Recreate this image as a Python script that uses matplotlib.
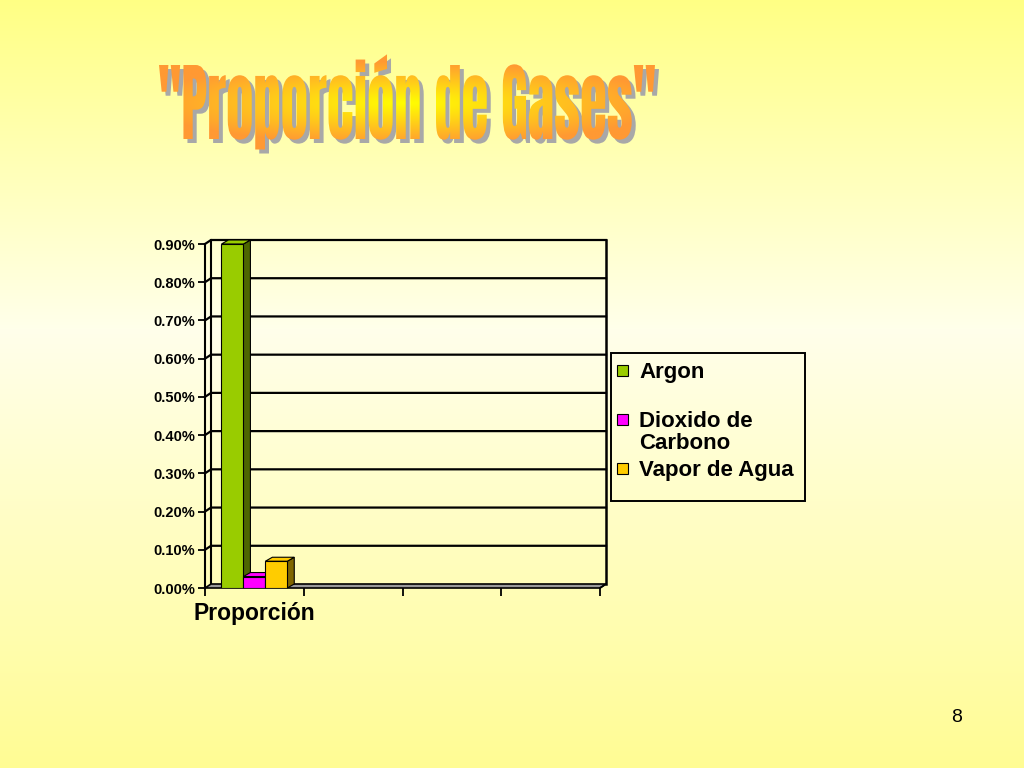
import numpy as np
import matplotlib
matplotlib.use("Agg")
import matplotlib.pyplot as plt
from matplotlib.patches import Polygon, Rectangle, PathPatch
from matplotlib.textpath import TextPath
from matplotlib.font_manager import FontProperties, fontManager
from matplotlib.transforms import Affine2D
from matplotlib.ticker import FuncFormatter

# datos
categorias = ["Proporción", "", "", ""]
series = ["Argon", "Dioxido de\nCarbono", "Vapor de Agua"]
valores = [0.0090, 0.0003, 0.0007]
colores = ["#99cc00", "#ff00ff", "#ffcc00"]
lados = ["#4d6600", "#800080", "#806600"]
ticks_y = [0.0, 0.001, 0.002, 0.003, 0.004, 0.005, 0.006, 0.007, 0.008, 0.009]

plt.rcParams['font.family'] = ['Liberation Sans', 'DejaVu Sans']

fig = plt.figure(figsize=(10.24, 7.68), dpi=100)

# fondo con degradado amarillo (coordenadas en pixeles)
ax_bg = fig.add_axes([0, 0, 1, 1], zorder=0)
ax_bg.set_xlim(0, 1024)
ax_bg.set_ylim(768, 0)
ax_bg.axis("off")
yy = np.linspace(0, 1, 400)
r = np.ones_like(yy)
g = np.interp(yy, [0, 0.43, 1], [1, 1, 0.99])
b = np.interp(yy, [0, 0.43, 1], [0.52, 0.92, 0.58])
grad = np.dstack([r, g, b]).reshape(400, 1, 3)
ax_bg.imshow(grad, extent=(0, 1024, 768, 0), aspect="auto", zorder=0)

# titulo tipo WordArt (Anton si existe, si no Lato Black)
nombres = set(f.name for f in fontManager.ttflist)
if "Anton" in nombres:
    fp = FontProperties(family="Anton", style="normal")
else:
    fp = FontProperties(family="Lato", weight="black", style="normal")
tp = TextPath((0, 0), '"Proporción de Gases"', size=100, prop=fp)
cap = TextPath((0, 0), "H", size=100, prop=fp).get_extents().height
bb = tp.get_extents()
x0, x1, base, alto = 159, 655, 139, 74
sx = (x1 - x0) / bb.width
sy = alto / cap
tr = Affine2D().translate(-bb.x0, 0).scale(sx, -sy).translate(x0, base)
sombra = PathPatch(tr.transform_path(tp), transform=Affine2D().translate(4, 4) + ax_bg.transData,
                   facecolor="#a8a8a8", edgecolor="none", zorder=2)
ax_bg.add_patch(sombra)
letras = PathPatch(tr.transform_path(tp), transform=ax_bg.transData,
                   facecolor="none", edgecolor="none", zorder=3)
ax_bg.add_patch(letras)
gx, gy = np.meshgrid(np.linspace(150, 665, 300), np.linspace(40, 165, 130))
rr = np.clip(np.sqrt(((gx - 405) / 260) ** 2 + ((gy - 103) / 42) ** 2), 0, 1)
amarillo = np.array([1.0, 1.0, 0.0])
naranja = np.array([1.0, 0.6, 0.2])
img = amarillo[None, None, :] * (1 - rr[..., None]) + naranja[None, None, :] * rr[..., None]
im = ax_bg.imshow(img, extent=(150, 665, 165, 40), aspect="auto", zorder=3)
im.set_clip_path(letras)
ax_bg.set_xlim(0, 1024)
ax_bg.set_ylim(768, 0)

# leyenda
ax_bg.add_patch(Rectangle((611, 353), 194, 148, facecolor="none", edgecolor="black", lw=1.4, zorder=2))
for i, (s, c) in enumerate(zip(series, colores)):
    y = 370 + i * 49
    ax_bg.add_patch(Rectangle((617, y - 5), 11, 11, facecolor=c, edgecolor="black", lw=0.8, zorder=3))
    for j, linea in enumerate(s.split("\n")):
        ax_bg.text(639, y + 8 + j * 22, linea, fontsize=16, fontweight="bold", va="baseline",
                   ha="left", zorder=3)

ax_bg.text(957, 718, "8", fontsize=14, ha="center", va="center")

# grafico
ax = fig.add_axes([205 / 1024, 1 - 588 / 768, 395 / 1024, 344 / 768], zorder=1)
ax.patch.set_visible(False)
ax.set_xlim(0, 4)
ax.set_ylim(0, 0.009)
dx = 6 / 395 * 4
dy = 4 / 344 * 0.009

for s in ["top", "right", "bottom"]:
    ax.spines[s].set_visible(False)
ax.spines["left"].set_linewidth(1.5)

# pared del fondo y lateral
ax.add_patch(Polygon([(0, 0), (4, 0), (4 + dx, dy), (dx, dy)], closed=True,
                     facecolor="#999999", edgecolor="black", lw=1.2, zorder=2, clip_on=False))
for t in ticks_y[1:]:
    ax.plot([0, dx, 4 + dx], [t, t + dy, t + dy], color="black", lw=1.6, zorder=1, clip_on=False)
ax.plot([dx, dx], [dy, 0.009 + dy], color="black", lw=1.5, zorder=1, clip_on=False)
ax.plot([4 + dx, 4 + dx], [dy, 0.009 + dy], color="black", lw=1.8, zorder=1, clip_on=False)
ax.plot([4, 4 + dx], [0, dy], color="black", lw=1.2, zorder=2, clip_on=False)

# barras 3D
ancho = 0.222
bx = 0.5 + (np.arange(len(valores)) - 1) * ancho
bdx = 7 / 395 * 4
bdy = 4 / 344 * 0.009
barras = ax.bar(bx, valores, width=ancho, color=colores, edgecolor="black", lw=0.8, zorder=3)
for rect, lado, c in zip(barras, lados, colores):
    xl = rect.get_x()
    xr = xl + rect.get_width()
    h = rect.get_height()
    ax.add_patch(Polygon([(xr, 0), (xr + bdx, bdy), (xr + bdx, h + bdy), (xr, h)], closed=True,
                         facecolor=lado, edgecolor="black", lw=0.8, zorder=2.9, clip_on=False))
    ax.add_patch(Polygon([(xl, h), (xr, h), (xr + bdx, h + bdy), (xl + bdx, h + bdy)], closed=True,
                         facecolor=c, edgecolor="black", lw=0.8, zorder=2.9, clip_on=False))

ax.set_yticks(ticks_y)
ax.yaxis.set_major_formatter(FuncFormatter(lambda v, p: f"{v * 100:.2f}%"))
ax.tick_params(axis="y", length=5, width=1.3, pad=2, labelsize=10.5)
for lb in ax.get_yticklabels():
    lb.set_fontweight("bold")

ax.set_xticks([0.5], [categorias[0]])
ax.set_xticks([0, 1, 2, 3, 4], minor=True)
ax.tick_params(axis="x", which="major", length=0, pad=10, labelsize=16.5)
ax.tick_params(axis="x", which="minor", length=6, width=1.3)
for lb in ax.get_xticklabels():
    lb.set_fontweight("bold")

fig.savefig("out.png", dpi=100)
